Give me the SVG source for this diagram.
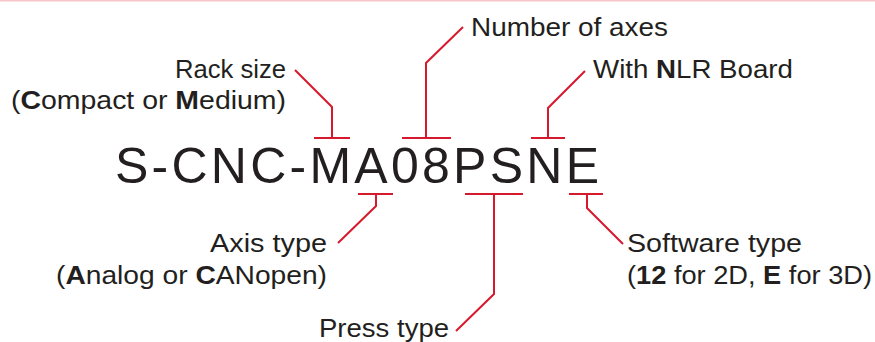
<svg xmlns="http://www.w3.org/2000/svg" width="875" height="342" viewBox="0 0 875 342">
<style>
.lbl{font-family:"Liberation Sans",Arial,sans-serif;font-size:26px;fill:#231f20}
.code{font-family:"Liberation Sans",Arial,sans-serif;font-size:50px;fill:#231f20}
.b{font-weight:bold}
.ld{fill:none;stroke:#d7192d;stroke-width:2;stroke-linejoin:miter}
</style>
<rect x="0" y="0" width="875" height="342" fill="#ffffff"/>
<line x1="0" y1="0.5" x2="875" y2="0.5" stroke="#f5c6c8" stroke-width="2"/>
<g id="code"><text class="code" x="115" y="183" textLength="484" lengthAdjust="spacing">S-CNC-MA08PSNE</text></g>
<g id="rack-size">
<text class="lbl" x="175" y="78" textLength="111" lengthAdjust="spacingAndGlyphs">Rack size</text>
<text class="lbl" x="11" y="109" textLength="275" lengthAdjust="spacingAndGlyphs">(<tspan class="b">C</tspan>ompact or <tspan class="b">M</tspan>edium)</text>
</g>
<g id="number-of-axes">
<text class="lbl" x="471" y="36" textLength="197" lengthAdjust="spacingAndGlyphs">Number of axes</text>
</g>
<g id="nlr-board">
<text class="lbl" x="593" y="78" textLength="200" lengthAdjust="spacingAndGlyphs">With <tspan class="b">N</tspan>LR Board</text>
</g>
<g id="axis-type">
<text class="lbl" x="210" y="252" textLength="117" lengthAdjust="spacingAndGlyphs">Axis type</text>
<text class="lbl" x="56" y="284" textLength="271" lengthAdjust="spacingAndGlyphs">(<tspan class="b">A</tspan>nalog or <tspan class="b">C</tspan>ANopen)</text>
</g>
<g id="press-type">
<text class="lbl" x="319" y="337" textLength="130" lengthAdjust="spacingAndGlyphs">Press type</text>
</g>
<g id="software-type">
<text class="lbl" x="627" y="252" textLength="175" lengthAdjust="spacingAndGlyphs">Software type</text>
<text class="lbl" x="627" y="284" textLength="245" lengthAdjust="spacingAndGlyphs">(<tspan class="b">12</tspan> for 2D, <tspan class="b">E</tspan> for 3D)</text>
</g>
<g id="connectors">
<path class="ld" d="M314 138H350M332 138V107L295 70"/>
<path class="ld" d="M402 138H451M426 138V63L463 27"/>
<path class="ld" d="M531 138H565M548 138V108L585 71"/>
<path class="ld" d="M358 194H393M376 194V206L338 243"/>
<path class="ld" d="M465 194H523M494 194V294L456 331"/>
<path class="ld" d="M569 194H603M587 194V208L623 244"/>
</g>
</svg>
